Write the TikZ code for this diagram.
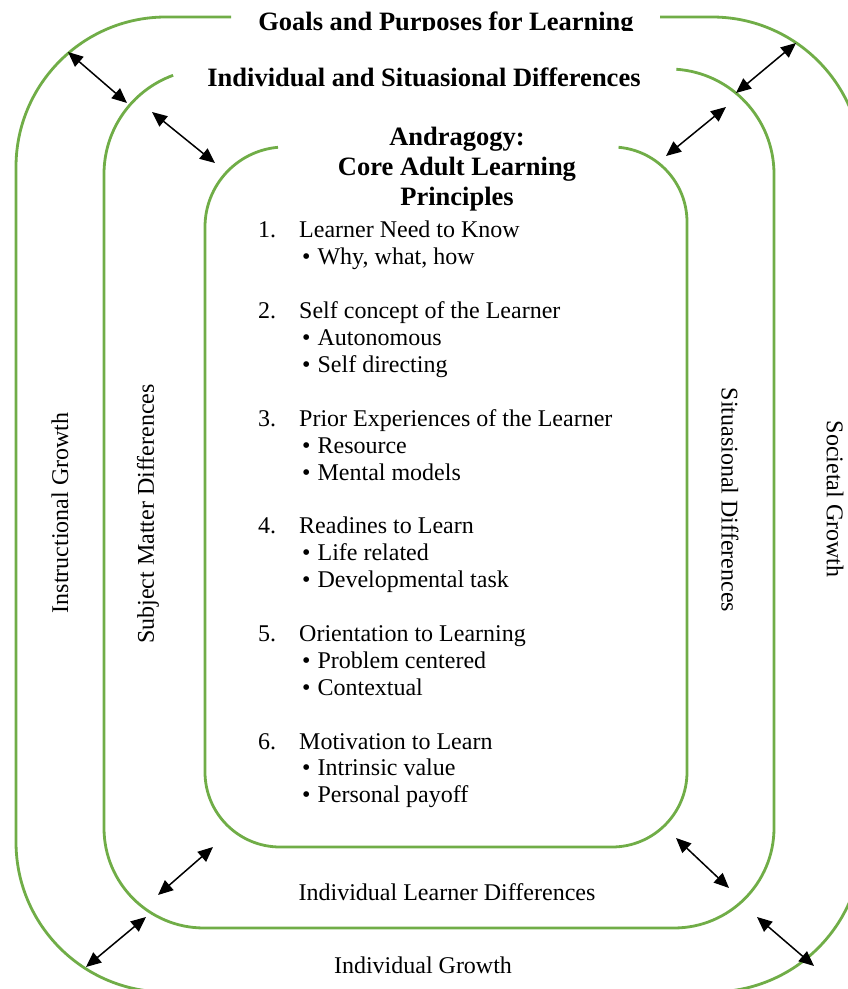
\documentclass[tikz,border=0pt]{standalone}
\usepackage{fontspec}
\setmainfont{Liberation Serif}
\usetikzlibrary{arrows.meta}
\definecolor{ringgreen}{RGB}{112,173,71}
\tikzset{
  ring/.style={draw=ringgreen, line width=2.8pt},
  dbl/.style={{Triangle[length=15pt,width=13pt]}-{Triangle[length=15pt,width=13pt]}, line width=1.5pt, black},
  body/.style={font=\fontsize{24}{27}\selectfont, inner sep=0pt},
  ttl/.style={font=\fontsize{26.5}{30}\selectfont\bfseries, inner sep=0pt},
  num/.style={body, anchor=base west},
  itemtxt/.style={body, anchor=base west},
}
\begin{document}
\begin{tikzpicture}[x=1pt,y=1pt]
\clip (0,0) rectangle (848,989);
\fill[white] (0,0) rectangle (848,989);

% outer ring
\draw[ring] (231,972) -- (166,972) arc[start angle=90,end angle=180,radius=150]
  -- (16,147) arc[start angle=180,end angle=270,radius=150]
  -- (712,-3) arc[start angle=270,end angle=360,radius=150]
  -- (862,822) arc[start angle=0,end angle=90,radius=150] -- (660,972);

% middle ring
\draw[ring] (669,815) ++(86:105) arc[start angle=86,end angle=0,radius=105]
  -- (774,161) arc[start angle=0,end angle=-90,radius=100]
  -- (204,61) arc[start angle=270,end angle=180,radius=100]
  -- (104,815) arc[start angle=180,end angle=110,radius=105];

% inner ring
\draw[ring] (612,767) ++(85:75) arc[start angle=85,end angle=0,radius=75]
  -- (687,217) arc[start angle=0,end angle=-90,radius=75]
  -- (280,142) arc[start angle=270,end angle=180,radius=75]
  -- (205,762) arc[start angle=180,end angle=95,radius=80];

% arrow end points
\coordinate (a1s) at (68,937);  \coordinate (a1e) at (127,886);
\coordinate (a2s) at (152,877); \coordinate (a2e) at (215,826);
\coordinate (a3s) at (796,946); \coordinate (a3e) at (736,896);
\coordinate (a4s) at (726,882); \coordinate (a4e) at (666,833);
\coordinate (a5s) at (213,142); \coordinate (a5e) at (158,94);
\coordinate (a6s) at (146,72);  \coordinate (a6e) at (86,22);
\coordinate (a7s) at (676,151); \coordinate (a7e) at (729,101);
\coordinate (a8s) at (757,72);  \coordinate (a8e) at (814,23);
\foreach \i in {1,...,8} { \draw[dbl] (a\i s) -- (a\i e); }

% titles
\begin{scope}
\clip (0,958) rectangle (848,989);
\node[ttl, anchor=base] (goals) at (446,958) {Goals and Purposes for Learning};
\end{scope}
\node[ttl, anchor=base] (isd) at (424,902) {Individual and Situasional Differences};
\node[ttl, anchor=base] (t1) at (457,843) {Andragogy:};
\node[ttl, anchor=base] (t2) at (457,813) {Core Adult Learning};
\node[ttl, anchor=base] (t3) at (457,783) {Principles};

% list
\node[num] (n1) at (258,751) {1.};
\node[itemtxt] (h1) at (299,751) {Learner Need to Know};
\node[itemtxt] (b11) at (302,724.1) {•\hspace{7pt}Why, what, how};
\node[num] (n2) at (258,670.3) {2.};
\node[itemtxt] (h2) at (299,670.3) {Self concept of the Learner};
\node[itemtxt] (b21) at (302,643.4) {•\hspace{7pt}Autonomous};
\node[itemtxt] (b22) at (302,616.5) {•\hspace{7pt}Self directing};
\node[num] (n3) at (258,562.7) {3.};
\node[itemtxt] (h3) at (299,562.7) {Prior Experiences of the Learner};
\node[itemtxt] (b31) at (302,535.8) {•\hspace{7pt}Resource};
\node[itemtxt] (b32) at (302,508.9) {•\hspace{7pt}Mental models};
\node[num] (n4) at (258,455.1) {4.};
\node[itemtxt] (h4) at (299,455.1) {Readines to Learn};
\node[itemtxt] (b41) at (302,428.2) {•\hspace{7pt}Life related};
\node[itemtxt] (b42) at (302,401.3) {•\hspace{7pt}Developmental task};
\node[num] (n5) at (258,347.5) {5.};
\node[itemtxt] (h5) at (299,347.5) {Orientation to Learning};
\node[itemtxt] (b51) at (302,320.6) {•\hspace{7pt}Problem centered};
\node[itemtxt] (b52) at (302,293.7) {•\hspace{7pt}Contextual};
\node[num] (n6) at (258,239.9) {6.};
\node[itemtxt] (h6) at (299,239.9) {Motivation to Learn};
\node[itemtxt] (b61) at (302,213) {•\hspace{7pt}Intrinsic value};
\node[itemtxt] (b62) at (302,186.1) {•\hspace{7pt}Personal payoff};

% side labels
\node[body, rotate=90] (ig) at (60,476) {Instructional Growth};
\node[body, rotate=90] (smd) at (148,475) {Subject Matter Differences};
\node[body, rotate=-90] (sd) at (730,489) {Situasional Differences};
\node[body, rotate=-90] (sg) at (835,490) {Societal Growth};
\node[body] (ild) at (447,97) {Individual Learner Differences};
\node[body] (igr) at (423,24) {Individual Growth};
\end{tikzpicture}
\end{document}
